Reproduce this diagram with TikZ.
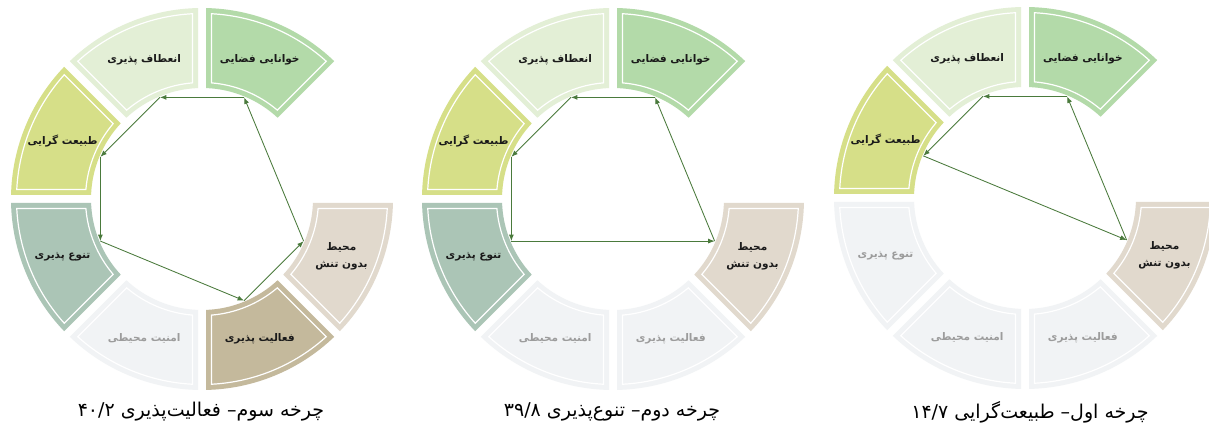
\documentclass[tikz,border=0pt]{standalone}
\usepackage{fontspec}
\usetikzlibrary{arrows.meta,calc}
\newfontfamily\ar[Script=Arabic]{DejaVu Sans}
\TeXXeTstate=1
\definecolor{cKh}{HTML}{B3DAA9}
\definecolor{cEn}{HTML}{E3EFD6}
\definecolor{cTa}{HTML}{D6DF88}
\definecolor{cTn}{HTML}{ABC5B6}
\definecolor{cFa}{HTML}{C4B99C}
\definecolor{cMo}{HTML}{E1D9CD}
\definecolor{cOff}{HTML}{F1F3F5}
\definecolor{tOn}{HTML}{1A1A1A}
\definecolor{tOff}{HTML}{9C9C9C}
\definecolor{arrc}{HTML}{4A7A3C}
\def\rin{111}\def\rout{191}\def\gp{4}\def\ins{5.5}
\tikzset{
  lab/.style={font=\ar\bfseries\fontsize{10.5}{17}\selectfont, align=center, inner sep=0pt},
  captxt/.style={font=\ar\fontsize{19}{22}\selectfont, text=black, inner sep=0pt},
  arr/.style={draw=arrc, line width=0.85pt, -{Latex[length=6.5pt,width=5pt]}},
  rim/.style={draw=white, line width=1.2pt}
}
\newcommand{\seg}[6]{%
  \pgfmathsetmacro{\sa}{#2+asin(\gp/\rin)}%
  \pgfmathsetmacro{\sb}{#2+asin(\gp/\rout)}%
  \pgfmathsetmacro{\sc}{#2+45-asin(\gp/\rout)}%
  \pgfmathsetmacro{\sd}{#2+45-asin(\gp/\rin)}%
  \fill[#3] ($(#1)+(\sa:\rin pt)$) -- ($(#1)+(\sb:\rout pt)$)
     arc[start angle=\sb, end angle=\sc, radius=\rout pt]
     -- ($(#1)+(\sd:\rin pt)$)
     arc[start angle=\sd, end angle=\sa, radius=\rin pt] -- cycle;
  \pgfmathsetmacro{\ri}{\rin+\ins}%
  \pgfmathsetmacro{\ro}{\rout-\ins}%
  \pgfmathsetmacro{\dd}{\gp+\ins}%
  \pgfmathsetmacro{\sa}{#2+asin(\dd/\ri)}%
  \pgfmathsetmacro{\sb}{#2+asin(\dd/\ro)}%
  \pgfmathsetmacro{\sc}{#2+45-asin(\dd/\ro)}%
  \pgfmathsetmacro{\sd}{#2+45-asin(\dd/\ri)}%
  \draw[rim] ($(#1)+(\sa:\ri pt)$) -- ($(#1)+(\sb:\ro pt)$)
     arc[start angle=\sb, end angle=\sc, radius=\ro pt]
     -- ($(#1)+(\sd:\ri pt)$)
     arc[start angle=\sd, end angle=\sa, radius=\ri pt] -- cycle;
  \node[lab, text=#4] (#5) at ($(#1)+(#2+22.5:151pt)$) {#6};
  \coordinate (#5-p) at ($(#1)+(#2+22.5:110pt)$);
}
\newcommand{\Tkh}{\beginR خوانایی فضایی\endR}
\newcommand{\Ten}{\beginR انعطاف پذیری\endR}
\newcommand{\Tta}{\beginR طبیعت گرایی\endR}
\newcommand{\Ttn}{\beginR تنوع پذیری\endR}
\newcommand{\Tam}{\beginR امنیت محیطی\endR}
\newcommand{\Tfa}{\beginR فعالیت پذیری\endR}
\newcommand{\Tmo}{\beginR محیط\endR\\\beginR بدون تنش\endR}
\begin{document}
\begin{tikzpicture}[x=1pt,y=1pt]
\useasboundingbox (0,0) rectangle (1209,430);
\fill[white] (0,0) rectangle (1209,430);
\clip (0,0) rectangle (1209,430);
\coordinate (O3) at (202,231);
\coordinate (O2) at (613,231);
\coordinate (O1) at (1025,232);
% ring 3 (left)
\seg{O3}{45}{cKh}{tOn}{r3kh}{\Tkh}
\seg{O3}{90}{cEn}{tOn}{r3en}{\Ten}
\seg{O3}{135}{cTa}{tOn}{r3ta}{\Tta}
\seg{O3}{180}{cTn}{tOn}{r3tn}{\Ttn}
\seg{O3}{225}{cOff}{tOff}{r3am}{\Tam}
\seg{O3}{270}{cFa}{tOn}{r3fa}{\Tfa}
\seg{O3}{315}{cMo}{tOn}{r3mo}{\Tmo}
% ring 2 (middle)
\seg{O2}{45}{cKh}{tOn}{r2kh}{\Tkh}
\seg{O2}{90}{cEn}{tOn}{r2en}{\Ten}
\seg{O2}{135}{cTa}{tOn}{r2ta}{\Tta}
\seg{O2}{180}{cTn}{tOn}{r2tn}{\Ttn}
\seg{O2}{225}{cOff}{tOff}{r2am}{\Tam}
\seg{O2}{270}{cOff}{tOff}{r2fa}{\Tfa}
\seg{O2}{315}{cMo}{tOn}{r2mo}{\Tmo}
% ring 1 (right)
\seg{O1}{45}{cKh}{tOn}{r1kh}{\Tkh}
\seg{O1}{90}{cEn}{tOn}{r1en}{\Ten}
\seg{O1}{135}{cTa}{tOn}{r1ta}{\Tta}
\seg{O1}{180}{cOff}{tOff}{r1tn}{\Ttn}
\seg{O1}{225}{cOff}{tOff}{r1am}{\Tam}
\seg{O1}{270}{cOff}{tOff}{r1fa}{\Tfa}
\seg{O1}{315}{cMo}{tOn}{r1mo}{\Tmo}
% arrows ring 3
\draw[arr] (r3kh-p) -- (r3en-p);
\draw[arr] (r3en-p) -- (r3ta-p);
\draw[arr] (r3ta-p) -- (r3tn-p);
\draw[arr] (r3tn-p) -- (r3fa-p);
\draw[arr] (r3fa-p) -- (r3mo-p);
\draw[arr] (r3mo-p) -- (r3kh-p);
% arrows ring 2
\draw[arr] (r2kh-p) -- (r2en-p);
\draw[arr] (r2en-p) -- (r2ta-p);
\draw[arr] (r2ta-p) -- (r2tn-p);
\draw[arr] (r2tn-p) -- (r2mo-p);
\draw[arr] (r2mo-p) -- (r2kh-p);
% arrows ring 1
\draw[arr] (r1kh-p) -- (r1en-p);
\draw[arr] (r1en-p) -- (r1ta-p);
\draw[arr] (r1ta-p) -- (r1mo-p);
\draw[arr] (r1mo-p) -- (r1kh-p);
% captions
\node[captxt] (cap3) at (201,18) {\beginR چرخه سوم– فعالیت^^^^200cپذیری \beginL۴۰/۲\endL\endR};
\node[captxt] (cap2) at (612,18) {\beginR چرخه دوم– تنوع^^^^200cپذیری \beginL۳۹/۸\endL\endR};
\node[captxt] (cap1) at (1030,18) {\beginR چرخه اول– طبیعت^^^^200cگرایی \beginL۱۴/۷\endL\endR};
\end{tikzpicture}
\end{document}
